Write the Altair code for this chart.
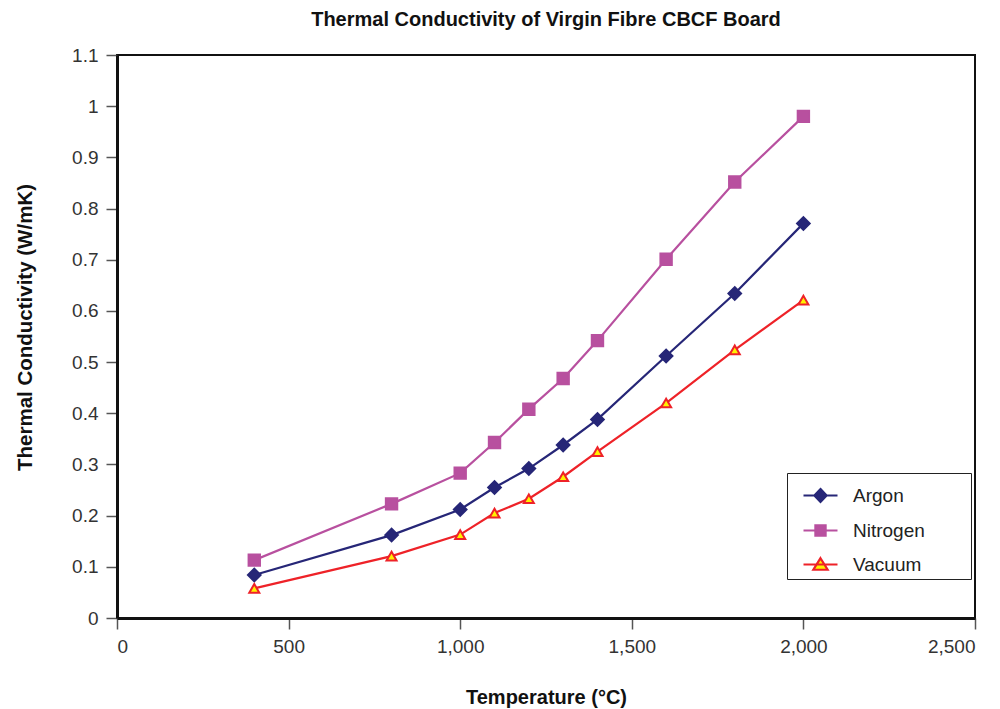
import altair as alt
import pandas as pd

# ---- data ----
temps = [400, 800, 1000, 1100, 1200, 1300, 1400, 1600, 1800, 2000]
argon = [0.084, 0.162, 0.212, 0.255, 0.292, 0.338, 0.388, 0.512, 0.634, 0.771]
nitrogen = [0.113, 0.223, 0.283, 0.343, 0.408, 0.468, 0.542, 0.701, 0.852, 0.980]
vacuum = [0.058, 0.121, 0.163, 0.205, 0.233, 0.276, 0.325, 0.420, 0.524, 0.621]

series = ["Argon", "Nitrogen", "Vacuum"]
line_colors = ["#262677", "#b8509f", "#ee2228"]
fill_colors = ["#262677", "#b8509f", "#fff200"]
point_shapes = ["diamond", "square", "triangle-up"]
point_sizes = [160, 100, 210]
legend_paths = [
    "M-1,0L1,0M0,-0.38L0.36,0L0,0.38L-0.36,0Z",
    "M-1,0L1,0M-0.3,-0.3L0.3,-0.3L0.3,0.3L-0.3,0.3Z",
    "M-1,0L1,0M0,-0.37L0.42,0.31L-0.42,0.31Z",
]
x_ticks = [0, 500, 1000, 1500, 2000, 2500]
y_ticks = [0, 0.1, 0.2, 0.3, 0.4, 0.5, 0.6, 0.7, 0.8, 0.9, 1.0, 1.1]

rows = []
for name, vals in zip(series, [argon, nitrogen, vacuum]):
    for t, v in zip(temps, vals):
        rows.append({"Temperature": t, "k": v, "Gas": name})
df = pd.DataFrame(rows)

FONT = "Liberation Sans"

x_enc = alt.X(
    "Temperature:Q",
    scale=alt.Scale(domain=[0, 2500], nice=False),
    axis=alt.Axis(
        values=x_ticks, format=",.0f", title="Temperature (°C)",
        titleBaseline="middle", titleY=79,
    ),
)
y_enc = alt.Y(
    "k:Q",
    scale=alt.Scale(domain=[0, 1.1], nice=False),
    axis=alt.Axis(
        values=y_ticks, format="~g", title="Thermal Conductivity (W/mK)",
        titleBaseline="middle", titleX=-92, titleY=272, titleAngle=270,
        titleFontSize=20.5,
    ),
)

base = alt.Chart(df)

lines = base.mark_line(strokeWidth=2.2).encode(
    x=x_enc, y=y_enc,
    stroke=alt.Stroke("Gas:N", scale=alt.Scale(domain=series, range=line_colors), legend=None),
)

points = base.mark_point(strokeWidth=2, opacity=1).encode(
    x=x_enc, y=y_enc,
    shape=alt.Shape("Gas:N", scale=alt.Scale(domain=series, range=point_shapes), legend=None),
    fill=alt.Fill("Gas:N", scale=alt.Scale(domain=series, range=fill_colors), legend=None),
    stroke=alt.Stroke("Gas:N", scale=alt.Scale(domain=series, range=line_colors), legend=None),
    size=alt.Size("Gas:N", scale=alt.Scale(domain=series, range=point_sizes), legend=None),
)

leg = alt.Legend(
    title=None, orient="none", legendX=670, legendY=418,
    symbolSize=1156, symbolStrokeWidth=2.2, symbolOpacity=1,
    labelFont=FONT, labelFontSize=19, labelColor="#222",
    labelOffset=14, rowPadding=5, padding=4, symbolOffset=11,
    strokeColor="#222", fillColor="white", labelLimit=300,
    labelExpr="datum.label + '\u2800\u2800\u2800'",
)

legend_layer = base.mark_point(opacity=0).encode(
    x=x_enc, y=y_enc,
    shape=alt.Shape("Gas:N", scale=alt.Scale(domain=series, range=legend_paths), legend=leg),
    fill=alt.Fill("Gas:N", scale=alt.Scale(domain=series, range=fill_colors), legend=leg),
    stroke=alt.Stroke("Gas:N", scale=alt.Scale(domain=series, range=line_colors), legend=leg),
)

chart = (
    alt.layer(lines, points, legend_layer)
    .resolve_scale(shape="independent", fill="independent", stroke="independent", size="independent")
    .properties(
        width=858, height=563,
        title=alt.TitleParams(
            "Thermal Conductivity of Virgin Fibre CBCF Board",
            font=FONT, fontSize=20, fontWeight="bold", color="#111", offset=16,
        ),
        autosize=alt.AutoSizeParams(type="none"),
        padding={"left": 109, "top": 47, "right": 17, "bottom": 93},
    )
    .configure_view(stroke="#111", strokeWidth=2)
    .configure_axis(
        grid=False,
        labelFont=FONT, labelFontSize=19, labelColor="#333",
        titleFont=FONT, titleFontSize=20, titleFontWeight="bold", titleColor="#111",
        tickColor="#555", tickSize=11, tickWidth=1.5,
        domainColor="#111", domainWidth=3, labelPadding=8,
    )
)

chart.save("out.html", embed_options={"renderer": "svg", "actions": False})
